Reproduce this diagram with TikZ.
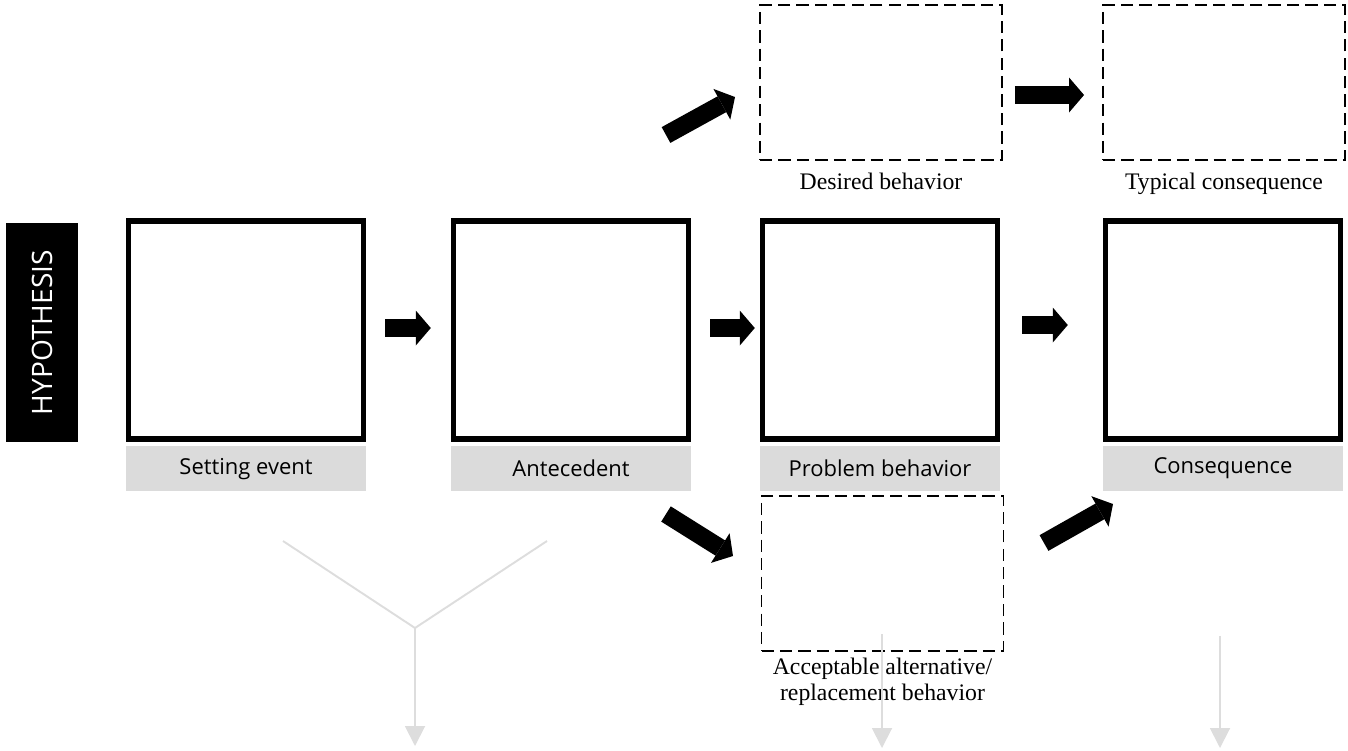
\documentclass[tikz,border=0pt]{standalone}
\usepackage{fontspec}
\setmainfont{Liberation Serif}
\newfontfamily\opensans{Open Sans}
\usetikzlibrary{positioning,arrows.meta}
\definecolor{barGray}{HTML}{DBDBDB}
\definecolor{faintGray}{HTML}{DDDDDD}

\begin{document}
\begin{tikzpicture}[
	every node/.style={font=\opensans\fontsize{12.5}{15}\selectfont},
	stage/.style={draw, line width=3.1pt, minimum width=4.7cm, minimum height=4.36cm, inner sep=0pt},
	option/.style={draw, dash pattern=on 7pt off 3.5pt, line width=1.1pt, minimum width=4.84cm, minimum height=3.1cm, inner sep=0pt},
	bar/.style={fill=barGray, minimum width=4.8cm, minimum height=0.9cm, inner sep=0pt},
	caption/.style={font=\fontsize{13.5}{14.7}\selectfont, align=center},
	bigarrow/.style={line width=0.36cm, -{Triangle[length=0.3cm, width=0.7cm, line width=0pt]}},
	faint/.style={draw=faintGray, line width=1.1pt}
	]
	
	\useasboundingbox (0,0) rectangle (26.96,-15);
	
	% side tab
	\node[rotate=90, fill=black, text=white, minimum width=4.38cm, minimum height=1.44cm, inner sep=0pt, font=\opensans\fontsize{16}{18}\selectfont] (hypo) at (0.84,-6.65) {HYPOTHESIS};
	
	% main chain
	\node[stage] (setting) at (4.92,-6.6) {};
	\node[stage] (antecedent) at (11.42,-6.6) {};
	\node[stage] (problem) at (17.6,-6.6) {};
	\node[stage] (consequence) at (24.46,-6.6) {};
	
	% grey name bars
	\node[bar, below=0.08cm of setting] (settingbar) {Setting event};
	\node[bar, below=0.08cm of antecedent] (antecedentbar) {Antecedent};
	\node[bar, below=0.08cm of problem] (problembar) {Problem behavior};
	\node[bar, below=0.08cm of consequence] (consequencebar) {Consequence};
	
	% dashed boxes
	\node[option] (desired) at (17.62,-1.65) {};
	\node[option] (typical) at (24.48,-1.65) {};
	\node[option] (alternative) at (17.65,-11.47) {};
	
	\node[caption, below=0.12cm of desired] (desiredlabel) {Desired behavior};
	\node[caption, below=0.12cm of typical] (typicallabel) {Typical consequence};
	\node[caption, below=0pt of alternative] (alternativelabel) {Acceptable alternative/\\replacement behavior};
	
	% block arrows
	\draw[bigarrow] ([xshift=0.38cm,yshift=0.04cm]setting.east) -- ([xshift=-0.4cm,yshift=0.04cm]antecedent.west);
	\draw[bigarrow] ([xshift=0.38cm,yshift=0.04cm]antecedent.east) -- ([xshift=-0.1cm,yshift=0.04cm]problem.west);
	\draw[bigarrow] ([xshift=0.44cm,yshift=0.1cm]problem.east) -- ([xshift=-0.7cm,yshift=0.1cm]consequence.west);
	\draw[bigarrow] ([xshift=0.24cm,yshift=-0.25cm]desired.east) -- ([xshift=-0.36cm,yshift=-0.25cm]typical.west);
	
	\coordinate (upfrom) at (13.32,-2.7);
	\coordinate (upto) at (14.7,-1.94);
	\coordinate (downfrom) at (13.32,-10.28);
	\coordinate (downto) at (14.66,-11.12);
	\coordinate (backfrom) at (20.88,-10.86);
	\coordinate (backto) at (22.26,-10.08);
	\draw[bigarrow] (upfrom) -- (upto);
	\draw[bigarrow] (downfrom) -- (downto);
	\draw[bigarrow] (backfrom) -- (backto);
	
	% faint arrows at the bottom
	\coordinate (yleft) at (5.66,-10.82);
	\coordinate (yright) at (10.94,-10.82);
	\coordinate (yjoin) at (8.3,-12.56);
	\coordinate (yend) at (8.3,-14.92);
	\coordinate (altend) at (17.64,-14.96);
	\coordinate (conend) at (24.4,-14.96);
	\draw[faint] (yleft) -- (yjoin) -- (yright);
	\draw[faint, -{Triangle[length=0.4cm, width=0.4cm]}] (yjoin) -- (yend);
	\draw[faint, -{Triangle[length=0.4cm, width=0.4cm]}] ([xshift=-0.01cm,yshift=0.35cm]alternative.south) -- (altend);
	\draw[faint, -{Triangle[length=0.4cm, width=0.4cm]}] ([yshift=-2.89cm]consequencebar.south -| conend) -- (conend);
	
\end{tikzpicture}
\end{document}
